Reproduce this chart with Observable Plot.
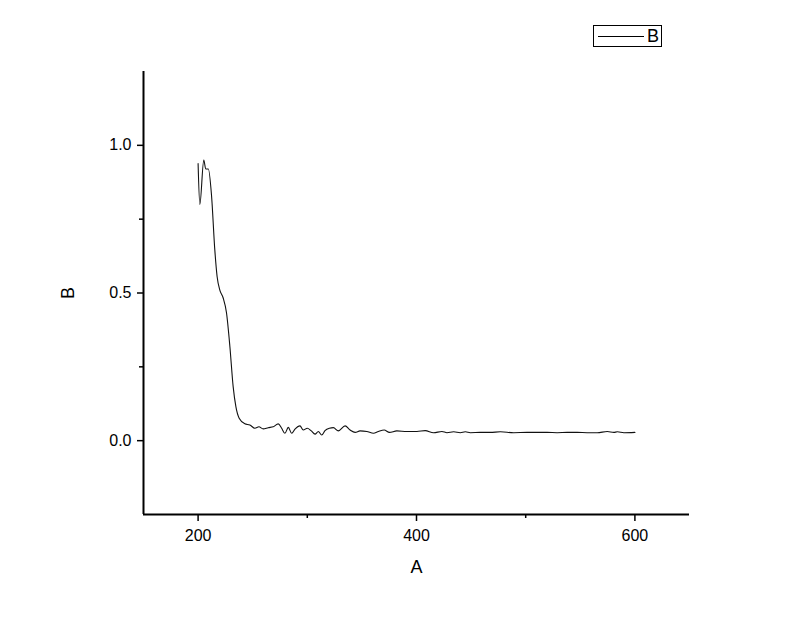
<!DOCTYPE html>
<html>
<head>
<meta charset="utf-8">
<script src="https://cdn.jsdelivr.net/npm/d3@7"></script>
<script src="https://cdn.jsdelivr.net/npm/@observablehq/plot@0.6"></script>
<style>
  html, body { margin: 0; padding: 0; background: #fff; }
  #wrap { position: relative; width: 800px; height: 617px; font-family: "Liberation Sans", Arial, sans-serif; }
  #legend { position: absolute; left: 593px; top: 25px; width: 69px; height: 22px; border: 1px solid #000; background: #fff; box-sizing: border-box; }
  #legend .sw { position: absolute; left: 4px; top: 10px; width: 46px; height: 0; border-top: 1px solid #000; }
  #legend .lb { position: absolute; left: 53px; top: 0px; font-size: 18px; line-height: 21px; color: #000; }
</style>
</head>
<body>
<div id="wrap"><div id="legend"><div class="sw"></div><div class="lb"></div></div></div>
<script>
// Series "B" as a function of "A"
const seriesName = "B";
const xLabel = "A";
const yLabel = "B";
const xValues = [200, 201.6, 205.2, 207, 209.4, 212.3, 215.3, 217.4, 219.9, 222.9, 226, 229.1, 232.1, 234.6, 237.6, 242.8, 247.4, 252, 255.7, 259.6, 264.2, 268.8, 273.4, 276.5, 279.5, 282.6, 285.7, 288.7, 293.3, 296.3, 300, 303.4, 307.1, 310.1, 313.2, 316.2, 320.2, 323.9, 328.4, 334.6, 339.2, 343.8, 348.3, 354.5, 360.6, 365.1, 370.4, 375.2, 382, 391.2, 400.4, 408, 415.6, 423.3, 427.9, 434, 440.1, 444.7, 449.3, 458.4, 467.6, 476.8, 489, 501.3, 510.5, 519.6, 528.8, 538, 547.2, 556.3, 565.5, 574.7, 580.7, 583.9, 589.9, 600];
const yValues = [0.938, 0.80, 0.95, 0.92, 0.92, 0.83, 0.646, 0.556, 0.51, 0.484, 0.433, 0.319, 0.183, 0.115, 0.076, 0.057, 0.053, 0.042, 0.047, 0.040, 0.044, 0.047, 0.057, 0.042, 0.025, 0.045, 0.025, 0.039, 0.050, 0.036, 0.042, 0.034, 0.022, 0.031, 0.019, 0.034, 0.042, 0.044, 0.033, 0.050, 0.036, 0.028, 0.033, 0.031, 0.025, 0.031, 0.036, 0.028, 0.033, 0.031, 0.031, 0.034, 0.027, 0.031, 0.027, 0.030, 0.027, 0.030, 0.027, 0.028, 0.028, 0.030, 0.027, 0.028, 0.028, 0.028, 0.027, 0.028, 0.028, 0.027, 0.027, 0.031, 0.028, 0.030, 0.027, 0.028];
const xDomain = [150, 650];
const yDomain = [-0.25, 1.25];
const xMajorTicks = [200, 400, 600];
const xMinorTicks = [300, 500];
const yMajorTicks = [0, 0.5, 1.0];
const yMinorTicks = [0.25, 0.75];

const data = xValues.map((x, i) => ({x, y: yValues[i]}));

const chart = Plot.plot({
  width: 800,
  height: 617,
  marginLeft: 143,
  marginRight: 111,
  marginTop: 71,
  marginBottom: 103,
  style: {fontFamily: "'Liberation Sans', Arial, sans-serif", fontSize: "16px", color: "#000", background: "#fff"},
  x: {domain: xDomain},
  y: {domain: yDomain},
  marks: [
    Plot.axisX(xMinorTicks, {tickSize: 4, tickFormat: () => "", strokeWidth: 1.5, label: null}),
    Plot.axisX(xMajorTicks, {tickSize: 7, tickPadding: 8, tickFormat: d3.format("d"), strokeWidth: 1.5, fontSize: 16,
      label: xLabel, labelAnchor: "center", labelOffset: 58, labelArrow: "none"}),
    Plot.axisY(yMinorTicks, {tickSize: 4, tickFormat: () => "", strokeWidth: 1.5, label: null}),
    Plot.axisY(yMajorTicks, {tickSize: 6, tickPadding: 6, tickFormat: d3.format(".1f"), strokeWidth: 1.5, fontSize: 16,
      label: yLabel, labelAnchor: "center", labelOffset: 82, labelArrow: "none"}),
    Plot.ruleX([xDomain[0]], {stroke: "#000", strokeWidth: 2}),
    Plot.ruleY([yDomain[0]], {stroke: "#000", strokeWidth: 2}),
    Plot.line(data, {x: "x", y: "y", stroke: "#111", strokeWidth: 1.1, curve: "monotone-x"})
  ]
});
chart.style.position = "absolute";
chart.style.left = "0";
chart.style.top = "0";
const wrap = document.getElementById("wrap");
wrap.insertBefore(chart, wrap.firstChild);
document.querySelector("#legend .lb").textContent = seriesName;
chart.querySelectorAll("g[aria-label='x-axis label'] text, g[aria-label='y-axis label'] text").forEach(t => t.setAttribute("font-size", 18));
</script>
</body>
</html>
